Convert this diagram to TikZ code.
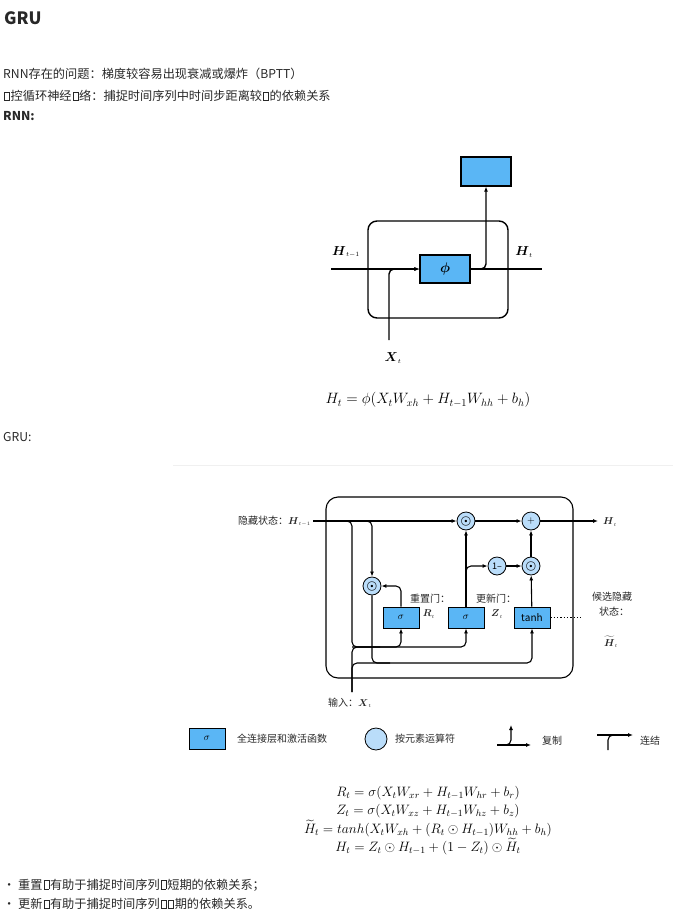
\RequirePackage{fix-cm}
\documentclass[tikz,border=0pt]{standalone}
\usepackage{amsmath}
\usepackage{fontspec}
\setmainfont{Noto Sans CJK SC}
\usetikzlibrary{positioning,arrows.meta}

\definecolor{fcblue}{RGB}{90,182,245}
\definecolor{opblue}{RGB}{186,221,250}
\definecolor{txt}{RGB}{40,40,40}

% glyph the page could not show
\newcommand{\missg}{\kern.08em\hbox{\vrule width .45pt\vbox to .72em{\hrule width .38em\vfill\hrule width .38em}\vrule width .45pt}\kern.08em}

\tikzset{
  fc/.style={draw, fill=fcblue, line width=0.8pt, minimum width=36pt, minimum height=21pt, inner sep=0pt},
  op/.style={circle, draw, fill=opblue, line width=0.8pt, minimum size=18pt, inner sep=0pt},
  wire/.style={rounded corners=5pt},
  arr/.style={wire, -{Latex[length=5pt,width=4pt]}},
  body/.style={anchor=west, inner sep=0pt, text=txt, font=\fontsize{12.2}{14}\selectfont},
  lbl/.style={inner sep=0pt, text=txt, font=\fontsize{10}{12}\selectfont},
  eq/.style={inner sep=0pt, font=\fontsize{13.6}{16}\selectfont},
}

\begin{document}
\begin{tikzpicture}[x=1pt, y=-1pt, node distance=17.8pt]
\useasboundingbox (0,0) rectangle (673,916);

% text at the top
\node[body, font=\fontsize{17}{20}\selectfont\bfseries] (title) at (4,18) {GRU};
\node[body] (p1) at (3,74) {RNN存在的问题：梯度较容易出现衰减或爆炸（BPTT）};
\node[body] (p2) at (3,96) {\missg 控循环神经\missg 络：捕捉时间序列中时间步距离较\missg 的依赖关系};
\node[body, font=\fontsize{12.2}{14}\selectfont\bfseries] (p3) at (3,116) {RNN:};

% RNN cell
\begin{scope}[line width=1.4pt]
\node[fc, line width=1.2pt, minimum width=50pt, minimum height=29pt] (yout) at (486,171.5) {};
\draw[rounded corners=9pt] (368,221) rectangle (508,318);
\node[fc, line width=1.2pt, minimum width=50pt, minimum height=28pt, font=\fontsize{14}{16}\selectfont] (phi) at (445,269) {$\boldsymbol{\phi}$};
\coordinate (hl) at (331,269);
\coordinate (hr) at (542,269);
\coordinate (xt) at (389,340);
\draw[arr] (hl) -- (phi);
\draw[arr] (xt) |- (phi);
\draw (phi) -- (hr);
\draw[arr] (phi) -| (yout);
\end{scope}
\node[font=\fontsize{13}{15}\selectfont] (lhp) at (346,252) {$\boldsymbol{H}_{\scriptscriptstyle t-1}$};
\node[font=\fontsize{13}{15}\selectfont] (lhn) at (524,252) {$\boldsymbol{H}_{\scriptscriptstyle t}$};
\node[font=\fontsize{13}{15}\selectfont] (lx) at (393,358) {$\boldsymbol{X}_{\scriptscriptstyle t}$};
\node[eq, font=\fontsize{15}{18}\selectfont] (e0) at (428,400) {$H_t = \phi(X_tW_{xh} + H_{t-1}W_{hh} + b_h)$};

\node[body] (p4) at (3,437) {GRU:};
\draw[black!6] (173,465) -- (673,465);

% GRU cell
\begin{scope}[line width=1.1pt]
\draw[rounded corners=12pt] (326,497) rectangle (573,678);
\node[op, font=\large] (m1) at (466,521) {$\boldsymbol{\odot}$};
\node[op] (plus) at (531,521) {$+$};
\node[op, font=\fontsize{9}{9}\selectfont] (om) at (497,566) {1–};
\node[op, font=\large] (m2) at (531,566) {$\boldsymbol{\odot}$};
\node[op, font=\large] (rm) at (372,586) {$\boldsymbol{\odot}$};
\node[fc] (rsig) at (401,617.5) {$\sigma$};
\node[fc] (zsig) at (466,617.5) {$\sigma$};
\node[fc] (th) at (532,617.5) {$\mathrm{tanh}$};
\coordinate (hin) at (313,521);
\coordinate (xin) at (352,692);
\coordinate (hout) at (598,521);
\coordinate (zb) at (466,582);
\draw[arr] (hin) -- (m1);
\draw[arr] (hin) -| (352,647) -| (rsig);
\draw[arr] (352,647) -| (zsig);
\draw[arr] (hin) -| (rm);
\draw[arr] (rm) -- (372,663) -| (th);
\draw[wire] (xin) |- (380,647);
\draw[wire] (xin) |- (390,663);
\draw[arr] (rsig) |- (rm);
\draw[arr] (zsig) -- (m1);
\draw[arr] (zb) |- (om);
\draw[arr] (om) -- (m2);
\draw[arr] (th) -- (m2);
\draw[arr] (m2) -- (plus);
\draw[arr] (m1) -- (plus);
\draw[arr] (plus) -- (hout);
\draw[dotted, line width=1.3pt] (th) -- (583,617.5);
\end{scope}
\node[lbl, anchor=east] (hlab) at (311,521) {隐藏状态：$\boldsymbol{H}_{\scriptscriptstyle t-1}$};
\node[lbl] (xlab) at (350,703) {输入：$\boldsymbol{X}_{\scriptscriptstyle t}$};
\node[lbl] (rlab) at (430,599) {重置门：};
\node[lbl] (rt) at (429,614) {$\boldsymbol{R}_{\scriptscriptstyle t}$};
\node[lbl] (zlab) at (496,599) {更新门：};
\node[lbl] (zt) at (497,614) {$\boldsymbol{Z}_{\scriptscriptstyle t}$};
\node[lbl] (cl1) at (612,597) {候选隐藏};
\node[lbl] (cl2) at (614,612) {状态：};
\node[lbl] (ht) at (611,642) {$\widetilde{\boldsymbol{H}}_{\scriptscriptstyle t}$};
\node[lbl] (hlo) at (610,522) {$\boldsymbol{H}_{\scriptscriptstyle t}$};

% legend
\begin{scope}[line width=1.1pt]
\node[fc] (lfc) at (207,738.5) {$\sigma$};
\node[op, minimum size=22pt] (lop) at (376,739) {};
\coordinate (ca) at (497,745);
\coordinate (cb) at (531,745);
\coordinate (cc) at (511,725);
\draw[arr] (ca) -- (cb);
\draw[arr] (ca) -| (cc);
\coordinate (ja) at (597,735);
\coordinate (jb) at (633,735);
\coordinate (jc) at (608,750);
\draw[arr] (ja) -- (jb);
\draw[wire] (jc) |- (620,735);
\end{scope}
\node[lbl, anchor=west] (lfct) at (237,739) {全连接层和激活函数};
\node[lbl, anchor=west] (lopt) at (395,739) {按元素运算符};
\node[lbl, anchor=west] (cpt) at (542,741) {复制};
\node[lbl, anchor=west] (jt) at (640,741) {连结};

% equations
\node[eq] (e1) at (428,793) {$R_t = \sigma(X_tW_{xr} + H_{t-1}W_{hr} + b_r)$};
\node[eq] (e2) [below of=e1] {$Z_t = \sigma(X_tW_{xz} + H_{t-1}W_{hz} + b_z)$};
\node[eq] (e3) [below of=e2] {$\widetilde{H}_t = tanh(X_tW_{xh} + (R_t\odot H_{t-1})W_{hh} + b_h)$};
\node[eq] (e4) [below of=e3] {$H_t = Z_t\odot H_{t-1} + (1-Z_t)\odot\widetilde{H}_t$};

% notes at the bottom
\node[body] (b1) at (3,885) {• 重置\missg 有助于捕捉时间序列\missg 短期的依赖关系；};
\node[body] (b2) at (3,904) {• 更新\missg 有助于捕捉时间序列\missg\missg 期的依赖关系。};
\end{tikzpicture}
\end{document}
